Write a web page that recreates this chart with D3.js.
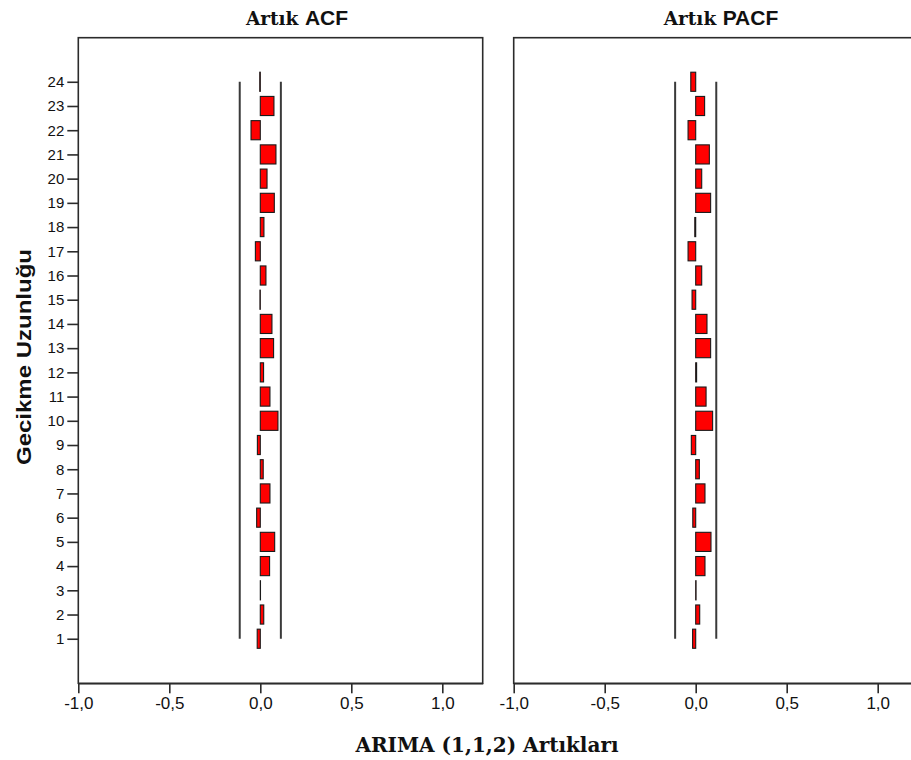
<!DOCTYPE html>
<html>
<head>
<meta charset="utf-8">
<script src="https://cdn.jsdelivr.net/npm/d3@7"></script>
<style>
  html, body { margin: 0; padding: 0; background: #fff; }
  svg { display: block; }
</style>
</head>
<body>
<svg id="chart" width="911" height="760"></svg>
<script>
// Residual ACF / PACF of the ARIMA(1,1,2) model, lags 1..24
const lags = [1, 2, 3, 4, 5, 6, 7, 8, 9, 10, 11, 12, 13, 14, 15, 16, 17, 18, 19, 20, 21, 22, 23, 24];
const acfValues = [-0.017, 0.019, 0.001, 0.051, 0.079, -0.020, 0.053, 0.016, -0.016, 0.097, 0.053, 0.018,
                   0.073, 0.064, -0.002, 0.031, -0.027, 0.020, 0.077, 0.037, 0.086, -0.051, 0.075, -0.003];
const pacfValues = [-0.017, 0.022, 0.002, 0.051, 0.084, -0.016, 0.051, 0.020, -0.024, 0.093, 0.057, 0.005,
                    0.082, 0.062, -0.020, 0.033, -0.042, -0.005, 0.082, 0.033, 0.075, -0.042, 0.049, -0.027];
const confUpper = 0.113;
const confLower = -0.113;
const xTicks = [-1.0, -0.5, 0.0, 0.5, 1.0];
const panelTitles = ["Artık ACF", "Artık PACF"];
const xTitle = "ARIMA (1,1,2) Artıkları";
const yTitle = "Gecikme Uzunluğu";

const svg = d3.select("#chart");
const fmt = v => d3.format(".1f")(v).replace(".", ",").replace("−", "-");

const plotTop = 37.7, plotBottom = 683.3;
const y = d3.scaleLinear().domain([-0.84, 25.82]).range([plotBottom, plotTop]);
const step = Math.abs(y(2) - y(1));
const barH = step * 0.79;

const panels = [
  { values: acfValues, left: 78.3, right: 482.7, title: panelTitles[0], titleX: 297, yAxis: true },
  { values: pacfValues, left: 513.7, right: 918.1, title: panelTitles[1], titleX: 721, yAxis: false }
];

panels.forEach(p => {
  const x = d3.scaleLinear().domain([-1, 1.222]).range([p.left, p.right]);
  const g = svg.append("g");

  // frame
  g.append("rect")
    .attr("x", p.left).attr("y", plotTop)
    .attr("width", p.right - p.left).attr("height", plotBottom - plotTop)
    .attr("fill", "#fff").attr("stroke", "#2b2b2b").attr("stroke-width", 1.6);

  // confidence limits
  [confLower, confUpper].forEach(c => {
    g.append("line")
      .attr("x1", x(c)).attr("x2", x(c))
      .attr("y1", y(lags[lags.length - 1])).attr("y2", y(lags[0]))
      .attr("stroke", "#3a3a3a").attr("stroke-width", 2);
  });

  // coefficient bars
  g.selectAll("rect.bar").data(lags.map((l, i) => ({ lag: l, v: p.values[i] })))
    .join("rect").attr("class", "bar")
    .attr("x", d => Math.min(x(0), x(d.v)))
    .attr("width", d => Math.abs(x(d.v) - x(0)))
    .attr("y", d => y(d.lag) - barH / 2)
    .attr("height", barH)
    .attr("fill", "#ff0000")
    .attr("stroke", "#1a1a1a").attr("stroke-width", 1.1);

  // x axis
  const xa = g.append("g").attr("transform", `translate(0,${plotBottom})`)
    .call(d3.axisBottom(x).tickValues(xTicks).tickFormat(fmt).tickSize(10).tickSizeOuter(0).tickPadding(4));
  xa.select(".domain").attr("stroke", "#2b2b2b").attr("stroke-width", 1.6);
  xa.selectAll(".tick line").attr("stroke", "#2b2b2b").attr("stroke-width", 1.6);
  xa.selectAll(".tick text").attr("font-family", "Liberation Sans, Arial, sans-serif")
    .attr("font-size", 17).attr("fill", "#111");

  if (p.yAxis) {
    const ya = g.append("g").attr("transform", `translate(${p.left},0)`)
      .call(d3.axisLeft(y).tickValues(lags).tickFormat(d3.format("d")).tickSize(11).tickSizeOuter(0).tickPadding(3));
    ya.select(".domain").remove();
    ya.selectAll(".tick line").attr("stroke", "#2b2b2b").attr("stroke-width", 1.6);
    ya.selectAll(".tick text").attr("font-family", "Liberation Sans, Arial, sans-serif")
      .attr("font-size", 15).attr("fill", "#111");
  }

  // panel title
  const t = svg.append("text")
    .attr("x", p.titleX).attr("y", 25)
    .attr("text-anchor", "middle")
    .attr("font-weight", "bold").attr("font-size", 21).attr("fill", "#111");
  const parts = p.title.split(" ");
  t.append("tspan").attr("font-family", "DejaVu Serif, serif").attr("font-size", 18.5).text(parts[0] + " ");
  t.append("tspan").attr("font-family", "Liberation Sans Narrow, Liberation Sans, sans-serif").text(parts[1]);
});

// axis titles
svg.append("text")
  .attr("x", 487).attr("y", 752)
  .attr("text-anchor", "middle")
  .attr("font-family", "DejaVu Serif, serif").attr("font-weight", "bold")
  .attr("font-size", 20).attr("fill", "#111")
  .text(xTitle);

svg.append("text")
  .attr("transform", "translate(31,357) rotate(-90)")
  .attr("text-anchor", "middle")
  .attr("font-family", "Liberation Sans, Arial, sans-serif").attr("font-weight", "bold")
  .attr("font-size", 21).attr("fill", "#111")
  .attr("textLength", 216).attr("lengthAdjust", "spacingAndGlyphs")
  .text(yTitle);
</script>
</body>
</html>
